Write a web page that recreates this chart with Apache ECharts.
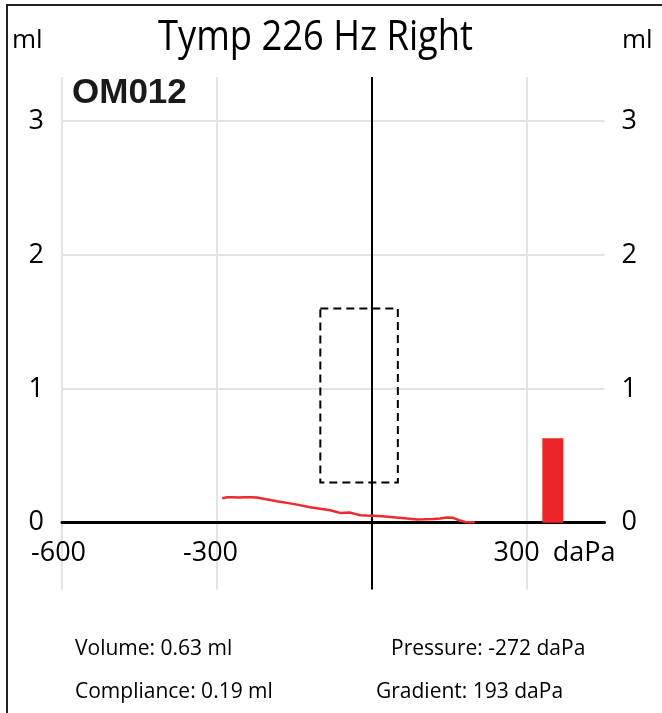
<!DOCTYPE html>
<html><head><meta charset="utf-8">
<script src="https://cdn.jsdelivr.net/npm/echarts@6/dist/echarts.min.js"></script>
<style>
html,body{margin:0;padding:0;width:662px;height:713px;overflow:hidden;background:#fff;}
#frame{position:absolute;left:6px;top:4px;width:800px;height:800px;border-left:2px solid #222;border-top:2px solid #222;}
#chart{position:absolute;left:0;top:0;width:662px;height:713px;}
</style></head><body>
<div id="frame"></div><div id="chart"></div>
<script>
// Tympanogram curve (daPa, ml)
const pressure   = [-290, -280, -271, -258, -246, -235, -223, -205, -184, -165, -145, -120, -100, -81, -62, -52, -43, -33, -23, -10, 2, 20, 35, 52, 68, 87, 100, 118, 132, 145, 157, 165, 170, 180, 190, 199];
const compliance = [0.183, 0.19, 0.19, 0.188, 0.19, 0.19, 0.188, 0.175, 0.16, 0.148, 0.135, 0.116, 0.104, 0.093, 0.073, 0.075, 0.076, 0.066, 0.056, 0.053, 0.051, 0.048, 0.043, 0.037, 0.031, 0.024, 0.025, 0.028, 0.032, 0.039, 0.036, 0.024, 0.016, 0.006, 0.004, 0.004];
// Normal region box
const normalPressure = [-100, 50];
const normalVolume   = [0.3, 1.6];
// Ear canal volume bar
const volumeBarPressure = 350;
const volumeValue = 0.63;
// Ticks
const xTicks = [-600, -300, 0, 300];
const xTickLabels = [-600, -300, 300];
const yTicks = [0, 1, 2, 3];
// Results
const title = 'Tymp 226 Hz Right';
const code = 'OM012';
const results = ['Volume: 0.63 ml', 'Pressure: -272 daPa', 'Compliance: 0.19 ml', 'Gradient: 193 daPa'];

const curveData = pressure.map((p, i) => [p, compliance[i]]);
const FONT = "'Open Sans', sans-serif";

const chart = echarts.init(document.getElementById('chart'), null, {renderer: 'canvas'});
const option = {
  backgroundColor: 'transparent',
  animation: false,
  grid: {left: 62, top: 77, width: 542.5, height: 512.6, containLabel: false, outerBoundsMode: 'none'},
  xAxis: {
    type: 'value', min: -600, max: 450,
    axisLine: {show: true, onZero: true, lineStyle: {color: '#000', width: 3}},
    axisTick: {show: false, customValues: xTicks},
    splitLine: {show: true, lineStyle: {color: '#e4e4e4', width: 2}},
    axisLabel: {
      customValues: xTickLabels, margin: -50, color: '#000', fontFamily: FONT, fontSize: 27,
      formatter: function (v) {
        if (v === -600) return '{n6|-600}';
        if (v === -300) return '{n3|-300}';
        if (v === 300) return '{p|300}{u|daPa}';
        return String(v);
      },
      rich: {
        n6: {fontFamily: FONT, fontSize: 27, color: '#000', padding: [0, 7, 0, 0]},
        n3: {fontFamily: FONT, fontSize: 27, color: '#000', padding: [0, 13, 0, 0]},
        p: {fontFamily: FONT, fontSize: 27, color: '#000', padding: [0, 0, 0, 55]},
        u: {fontFamily: FONT, fontSize: 27, color: '#000', padding: [0, 0, 0, 13]}
      }
    }
  },
  yAxis: [{
    type: 'value', min: -0.5, max: 3.33, position: 'left',
    axisLine: {show: false}, axisTick: {show: false, customValues: yTicks},
    splitLine: {show: true, lineStyle: {color: '#e4e4e4', width: 2}},
    axisLabel: {customValues: yTicks, margin: 18, color: '#000', fontFamily: FONT, fontSize: 27}
  }, {
    type: 'value', min: -0.5, max: 3.33, position: 'right',
    axisLine: {show: false}, axisTick: {show: false, customValues: yTicks},
    splitLine: {show: false},
    axisLabel: {customValues: yTicks, margin: 17, color: '#000', fontFamily: FONT, fontSize: 27}
  }],
  series: [{
    type: 'line', data: curveData, showSymbol: false, symbol: 'none', smooth: false,
    lineStyle: {color: '#ee2a2a', width: 2.5}, z: 5,
    markLine: {
      silent: true, symbol: ['none', 'none'], label: {show: false},
      lineStyle: {color: '#000', width: 2, type: 'solid'},
      data: [{xAxis: 0}]
    },
    markArea: {
      silent: true, label: {show: false},
      itemStyle: {color: 'rgba(0,0,0,0)', borderColor: '#000', borderWidth: 2, borderType: [8, 5]},
      data: [[{coord: [normalPressure[0], normalVolume[1]]}, {coord: [normalPressure[1], normalVolume[0]]}]]
    }
  }, {
    type: 'bar', data: [[volumeBarPressure, volumeValue]], barWidth: 21,
    itemStyle: {color: '#ee2526'}, z: 4
  }],
  graphic: [
    {type: 'text', x: 315.5, y: 38, scaleX: 0.865, style: {text: title, x: 0, y: 0, font: "42px 'Open Sans'", fill: '#000', align: 'center', verticalAlign: 'middle', textAlign: 'center', textVerticalAlign: 'middle'}},
    {type: 'text', x: 12, y: 41, style: {text: 'ml', font: "26px 'Open Sans'", fill: '#000', align: 'left', verticalAlign: 'middle', textAlign: 'left', textVerticalAlign: 'middle'}},
    {type: 'text', x: 622, y: 41, style: {text: 'ml', font: "26px 'Open Sans'", fill: '#000', align: 'left', verticalAlign: 'middle', textAlign: 'left', textVerticalAlign: 'middle'}},
    {type: 'text', x: 72, y: 93, style: {text: code, font: "bold 35px 'Liberation Sans'", fill: '#1a1a1a', align: 'left', verticalAlign: 'middle', textAlign: 'left', textVerticalAlign: 'middle'}},
    {type: 'text', x: 75, y: 649, style: {text: results[0], font: "21px 'Open Sans'", fill: '#000', align: 'left', verticalAlign: 'middle', textAlign: 'left', textVerticalAlign: 'middle'}},
    {type: 'text', x: 391, y: 649, style: {text: results[1], font: "21px 'Open Sans'", fill: '#000', align: 'left', verticalAlign: 'middle', textAlign: 'left', textVerticalAlign: 'middle'}},
    {type: 'text', x: 75, y: 692, style: {text: results[2], font: "21px 'Open Sans'", fill: '#000', align: 'left', verticalAlign: 'middle', textAlign: 'left', textVerticalAlign: 'middle'}},
    {type: 'text', x: 376, y: 692, style: {text: results[3], font: "21px 'Open Sans'", fill: '#000', align: 'left', verticalAlign: 'middle', textAlign: 'left', textVerticalAlign: 'middle'}}
  ]
};
chart.setOption(option);
</script>
</body></html>
